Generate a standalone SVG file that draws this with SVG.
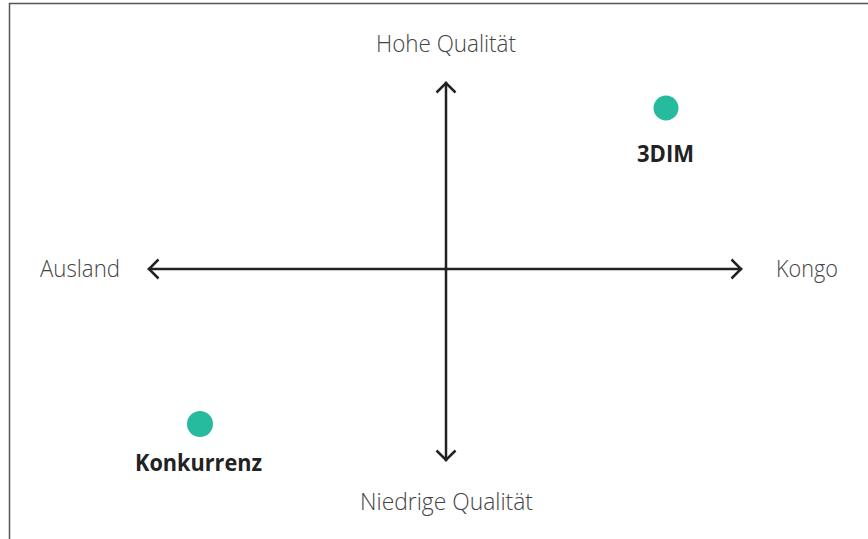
<svg xmlns="http://www.w3.org/2000/svg" width="868" height="539" viewBox="0 0 868 539">
  <style>
    .lbl { font-family: "Open Sans", "Liberation Sans", sans-serif; font-weight: 300; font-size: 23px; fill: #444; }
    .name { font-family: "Open Sans", "Liberation Sans", sans-serif; font-weight: 700; font-size: 23px; fill: #222; }
    .axis { stroke: #222; stroke-width: 2.5; fill: none; stroke-linecap: square; }
    .dot { fill: #26bb9f; }
  </style>
  <defs>
    <marker id="chev" viewBox="-12 -12 24 24" markerWidth="24" markerHeight="24" refX="0" refY="0" orient="auto" markerUnits="userSpaceOnUse">
      <path d="M-9.5,-9.5 L0,0 L-9.5,9.5" fill="none" stroke="#222" stroke-width="2.5"/>
    </marker>
  </defs>
  <rect x="0" y="0" width="868" height="539" fill="#fff"/>
  <path d="M9.5,539 V3.5 H868" fill="none" stroke="#555" stroke-width="1.5"/>

  <g id="connectors">
    <line class="axis" x1="446" y1="269" x2="149" y2="269" marker-end="url(#chev)"/>
    <line class="axis" x1="446" y1="269" x2="741" y2="269" marker-end="url(#chev)"/>
    <line class="axis" x1="446" y1="269" x2="446" y2="83" marker-end="url(#chev)"/>
    <line class="axis" x1="446" y1="269" x2="446" y2="460" marker-end="url(#chev)"/>
  </g>

  <g id="label-top"><text class="lbl" x="376" y="52" textLength="140" lengthAdjust="spacingAndGlyphs">Hohe Qualität</text></g>
  <g id="label-bottom"><text class="lbl" x="360" y="510" textLength="173" lengthAdjust="spacingAndGlyphs">Niedrige Qualität</text></g>
  <g id="label-left"><text class="lbl" x="40" y="277" textLength="80" lengthAdjust="spacingAndGlyphs">Ausland</text></g>
  <g id="label-right"><text class="lbl" x="776" y="277" textLength="62" lengthAdjust="spacingAndGlyphs">Kongo</text></g>

  <g id="node-3dim">
    <circle class="dot" cx="666" cy="108" r="12.5"/>
    <text class="name" x="637" y="162" textLength="57" lengthAdjust="spacingAndGlyphs">3DIM</text>
  </g>
  <g id="node-konkurrenz">
    <circle class="dot" cx="200" cy="424" r="13"/>
    <text class="name" x="135" y="471" textLength="127" lengthAdjust="spacingAndGlyphs">Konkurrenz</text>
  </g>
</svg>
